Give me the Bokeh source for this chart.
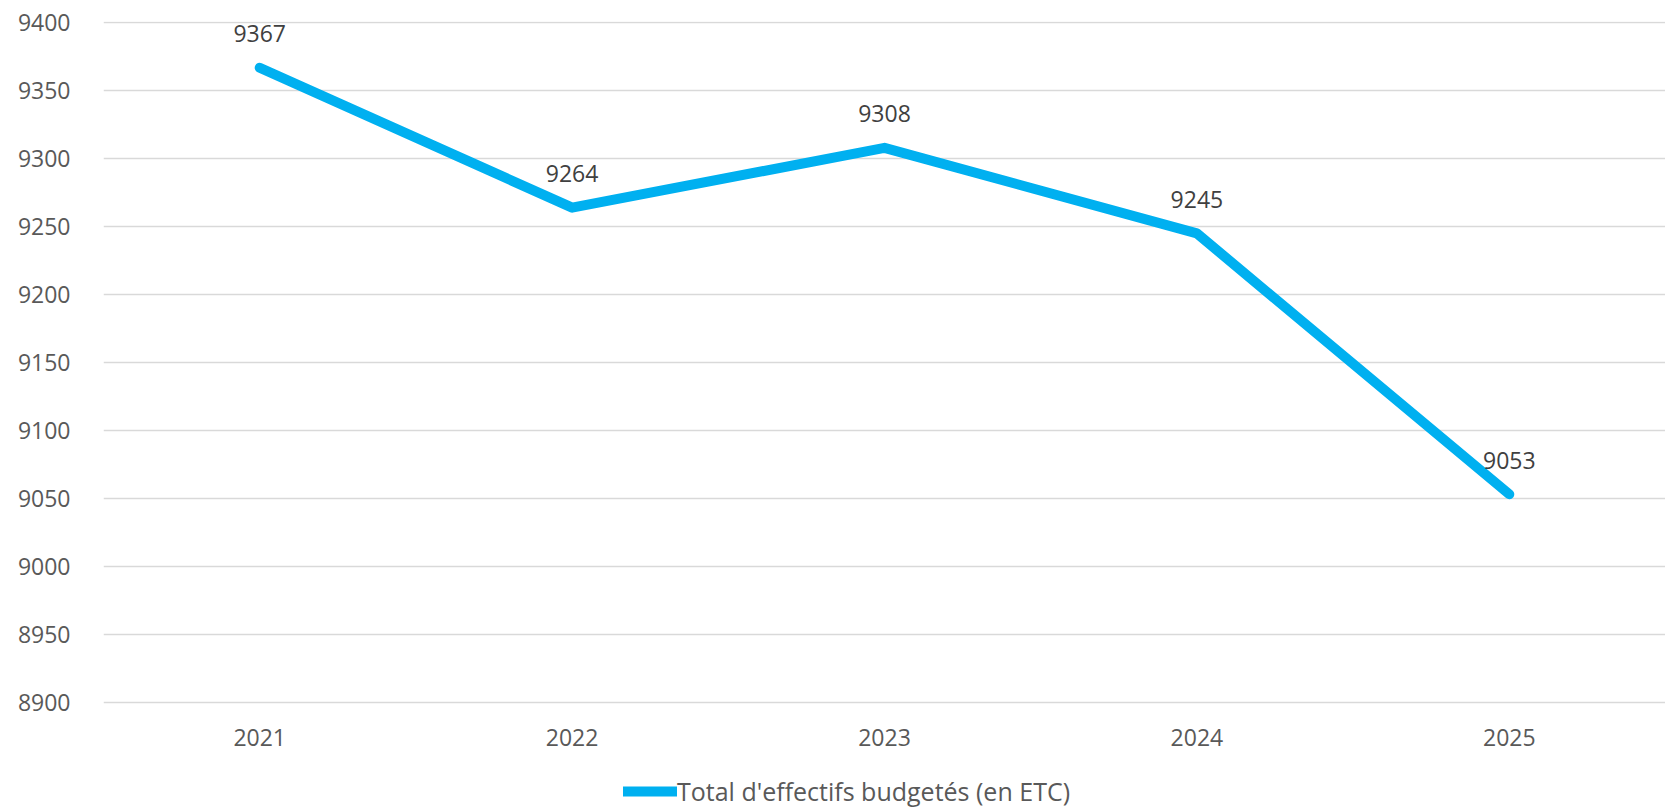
from bokeh.plotting import figure
from bokeh.models import (ColumnDataSource, Range1d, FixedTicker, LabelSet,
                          Legend, LegendItem)
from bokeh.core.properties import value
from bokeh.embed import file_html
from bokeh.resources import INLINE

years = ["2021", "2022", "2023", "2024", "2025"]
effectifs = [9367, 9264, 9308, 9245, 9053]
value_labels = ["9367", "9264", "9308", "9245", "9053"]
series_name = "Total d'effectifs budgetés (en ETC)"
y_min, y_max, y_step = 8900, 9400, 50
y_ticks = list(range(y_min, y_max + 1, y_step))

FONT = "Open Sans"
FS = "23px"
W, H = 1665, 808
TOP, LEFT = 21, 103
PLOT_PX = 682  # pixel height used by the value span (y_min-1 .. y_max+1)
# the frame extends to the bottom of the canvas so the legend is not clipped
frame_h = H - TOP
span = (y_max + 1) - (y_min - 1)
y_bottom = (y_max + 1) - frame_h * span / PLOT_PX

src = ColumnDataSource(dict(x=years, y=effectifs, lab=value_labels))

p = figure(x_range=years, y_range=Range1d(y_bottom, y_max + 1), width=W, height=H,
           output_backend="svg", toolbar_location=None,
           min_border_left=LEFT, min_border_top=TOP, min_border_bottom=0, min_border_right=0)
p.outline_line_color = None
p.background_fill_color = "white"
p.border_fill_color = "white"

r = p.line("x", "y", source=src, line_color="#00B0F0", line_width=10,
           line_cap="round", line_join="round")

labels = LabelSet(x="x", y="y", text="lab", source=src, y_offset=34,
                  text_align="center", text_baseline="middle",
                  text_font=value(FONT), text_font_size=FS, text_color="#404040")
p.add_layout(labels)

p.yaxis.ticker = FixedTicker(ticks=y_ticks)
p.yaxis.axis_line_color = None
p.yaxis.major_tick_line_color = None
p.yaxis.minor_tick_line_color = None
p.yaxis.major_label_standoff = 27
p.yaxis.major_label_text_font = FONT
p.yaxis.major_label_text_font_size = FS
p.yaxis.major_label_text_color = "#595959"

p.xaxis.fixed_location = y_min - 1
p.xaxis.axis_line_color = None
p.xaxis.major_tick_line_color = None
p.xaxis.major_label_standoff = 19
p.xaxis.major_label_text_font = FONT
p.xaxis.major_label_text_font_size = FS
p.xaxis.major_label_text_color = "#595959"

p.xgrid.grid_line_color = None
p.ygrid.grid_line_color = "#D9D9D9"
p.ygrid.grid_line_width = 1.5

legend = Legend(items=[LegendItem(label=series_name, renderers=[r])],
                orientation="horizontal", location=(520, 0),
                glyph_width=54, glyph_height=20, label_standoff=0,
                label_text_font=FONT, label_text_font_size="25px",
                label_text_color="#595959", border_line_color=None,
                background_fill_alpha=0, margin=0, padding=0, spacing=0)
p.add_layout(legend, "center")

open("out.html", "w").write(file_html(p, INLINE))
